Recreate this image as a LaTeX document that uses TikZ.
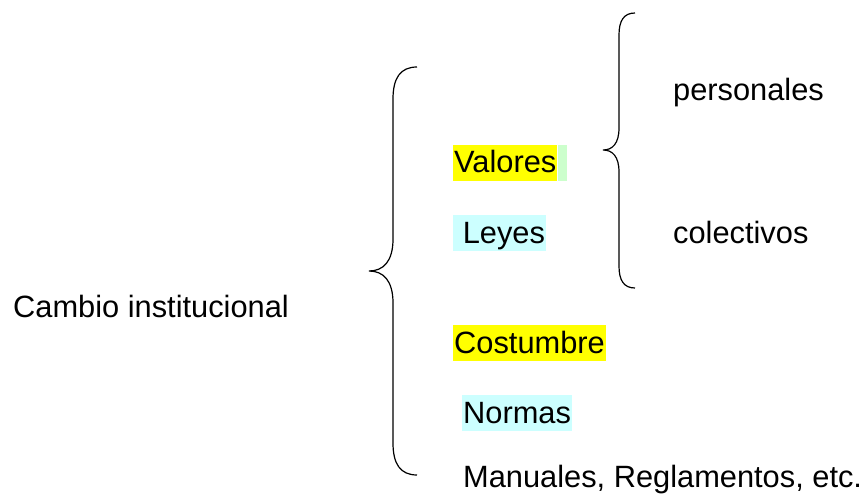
\documentclass[tikz,border=0pt]{standalone}
\usepackage{fontspec}
\setmainfont{Liberation Sans}
\usetikzlibrary{positioning}
\definecolor{hlyellow}{RGB}{255,255,0}
\definecolor{hlcyan}{RGB}{204,255,255}
\definecolor{hlgreen}{RGB}{204,255,204}
% tip x, tip y, top y, bottom y, half width, curl
\newcommand{\cibrace}[6] {\draw [brace] ({#1+2*#5},#3) .. controls ({#1+1.3*#5},#3) and ({#1+#5},{#3+0.35*#6}) .. ({#1+#5},{#3+#6}) -- ({#1+#5},{#2-#6}) .. controls ({#1+#5},{#2-0.3*#6}) and ({#1+0.6*#5},#2) .. (#1,#2) .. controls ({#1+0.6*#5},#2) and ({#1+#5},{#2+0.3*#6}) .. ({#1+#5},{#2+#6}) -- ({#1+#5},{#4-#6}) .. controls ({#1+#5},{#4-0.35*#6}) and ({#1+1.3*#5},#4) .. ({#1+2*#5},#4);}
\tikzset{
  word/.style={font=\fontsize{30.8}{37}\selectfont, inner sep=0pt, anchor=base west},
  hilite/.style={fill=#1, text height=28pt, text depth=8pt, inner xsep=1pt},
  brace/.style={line width=1.2pt}
}

\begin{document}
\begin{tikzpicture}[x=1pt, y=-1pt]
\useasboundingbox (0,0) rectangle (868,495);

\node [word] at (13,317) (cambio) {Cambio institucional};

\cibrace {369}{271}{67}{475}{24}{32}

\node [word, hilite=hlyellow] at (453,172.7) (valores) {Valores};
\node [word, hilite=hlgreen, right=0pt of valores, minimum width=9pt] (valoresb) {};
\node [word, hilite=hlcyan] at (453,243) (leyes) {\ Leyes};
\node [word, hilite=hlyellow] at (453,353) (costumbre) {Costumbre};
\node [word, hilite=hlcyan] at (462,423) (normas) {Normas};
\node [word] at (463,487) (manuales) {Manuales, Reglamentos, etc.};

\cibrace {603}{150}{13}{288}{16}{22}

\node [word] at (673,100) (personales) {personales};
\node [word] at (673,243) (colectivos) {colectivos};

\end{tikzpicture}
\end{document}
